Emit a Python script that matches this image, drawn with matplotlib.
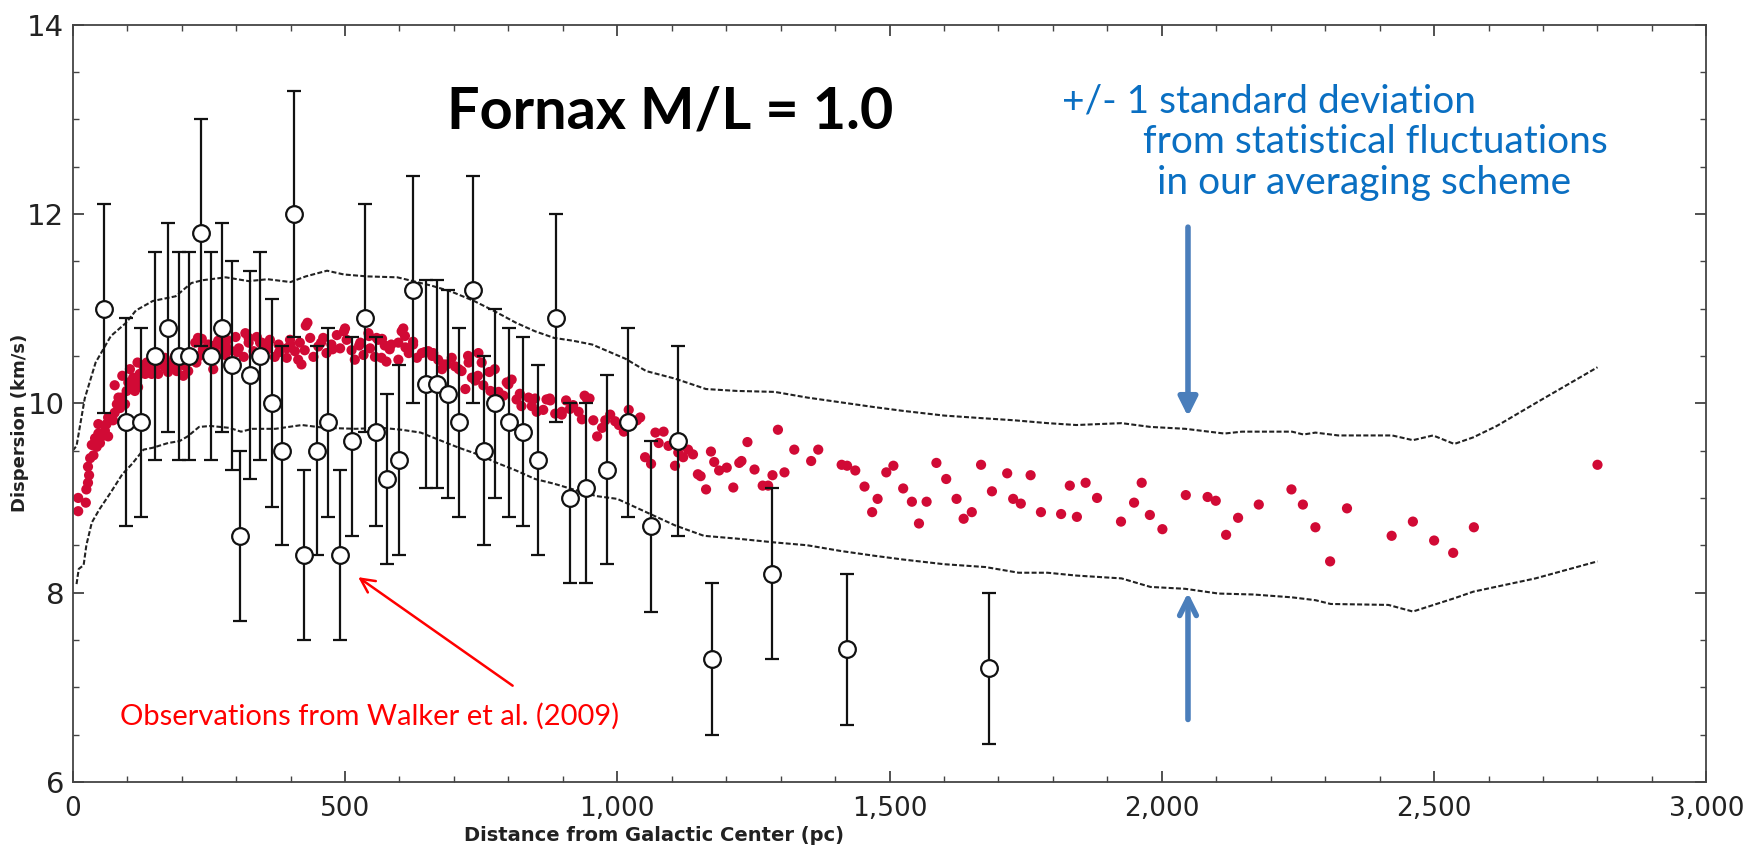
import numpy as np
import matplotlib.pyplot as plt
from matplotlib.ticker import MultipleLocator, FuncFormatter

# Walker et al. (2009) observations: radius (pc), dispersion, bar top, bar bottom
obs_r = [57, 98, 126, 151, 175, 195, 213, 235, 254, 274, 292, 307, 326, 344, 365,
         384, 407, 425, 448, 469, 490, 512, 537, 556, 578, 600, 625, 649, 668, 689,
         709, 735, 756, 775, 802, 827, 855, 888, 914, 942, 981, 1019, 1062, 1112,
         1173, 1285, 1421, 1682]
obs_v = [11.0, 9.8, 9.8, 10.5, 10.8, 10.5, 10.5, 11.8, 10.5, 10.8, 10.4, 8.6, 10.3, 10.5, 10.0,
         9.5, 12.0, 8.4, 9.5, 9.8, 8.4, 9.6, 10.9, 9.7, 9.2, 9.4, 11.2, 10.2, 10.2, 10.1,
         9.8, 11.2, 9.5, 10.0, 9.8, 9.7, 9.4, 10.9, 9.0, 9.1, 9.3, 9.8, 8.7, 9.6,
         7.3, 8.2, 7.4, 7.2]
obs_hi = [12.1, 10.9, 10.8, 11.6, 11.9, 11.6, 11.6, 13.0, 11.6, 11.9, 11.5, 9.5, 11.4, 11.6, 11.1,
          10.6, 13.3, 9.3, 10.6, 10.8, 9.3, 10.7, 12.1, 10.7, 10.1, 10.4, 12.4, 11.3, 11.3, 11.2,
          10.8, 12.4, 10.5, 11.0, 10.8, 10.7, 10.4, 12.0, 10.0, 10.0, 10.3, 10.8, 9.6, 10.6,
          8.1, 9.1, 8.2, 8.0]
obs_lo = [9.9, 8.7, 8.8, 9.4, 9.7, 9.4, 9.4, 10.6, 9.4, 9.7, 9.3, 7.7, 9.2, 9.4, 8.9,
          8.5, 10.7, 7.5, 8.4, 8.8, 7.5, 8.6, 9.7, 8.7, 8.3, 8.4, 10.0, 9.1, 9.1, 9.0,
          8.8, 10.0, 8.5, 9.0, 8.8, 8.7, 8.4, 9.8, 8.1, 8.1, 8.3, 8.8, 7.8, 8.6,
          6.5, 7.3, 6.6, 6.4]

# model dispersions (red points)
mod_r = [10, 10, 24, 25, 28, 30, 28, 32, 38, 35, 44, 41, 50, 47, 53, 47, 59, 65, 62, 65,
         74, 77, 81, 87, 90, 84, 99, 96, 102, 108, 111, 117, 114, 120, 123, 133, 129, 136,
         142, 145, 154, 157, 163, 169, 169, 175, 181, 188, 191, 194, 203, 203, 209, 212,
         218, 227, 233, 230, 237, 240, 249, 255, 258, 261, 267, 273, 276,
         77, 91, 105, 119, 133, 161, 182, 204, 225, 239, 260, 281, 302, 323, 344, 358,
         379, 400, 428, 456, 477, 498, 526, 544, 568, 582, 604, 611, 625, 646, 660, 681,
         709, 726, 744, 765, 800, 821, 849, 877, 898, 919, 940,
         283, 299, 305, 280, 317, 323, 332, 314, 338, 347, 356, 362, 371, 378, 393, 399,
         408, 414, 420, 417, 426, 431, 436, 442, 451, 460, 466, 475, 485, 491, 500, 503,
         512, 518, 528, 534, 543, 546, 555, 558, 273, 289, 393, 350,
         561, 573, 567, 576, 585, 598, 607, 610, 598, 617, 625, 632, 641, 653, 662, 671,
         678, 687, 696, 702, 714, 721, 727, 733, 739, 745, 751, 754, 767, 775, 782, 791,
         797, 806, 815, 824, 837, 843,
         852, 864, 870, 876, 886, 898, 906, 913, 929, 935, 944, 949, 956, 963, 972, 978,
         987, 996, 1003, 1012, 1021, 1036, 1042, 1051, 1062, 1070, 1076, 1085, 1094, 1106,
         1112, 1121, 1130, 1139, 1148,
         1153, 1163, 1172, 1178, 1187, 1201, 1213, 1224, 1228, 1239, 1252, 1267, 1277, 1285,
         1295, 1307, 1325, 1356, 1369, 1412, 1422, 1437, 1454, 1468, 1478, 1494, 1507, 1525,
         1541, 1554, 1568, 1586, 1604, 1623, 1636, 1651, 1668, 1688, 1716, 1727, 1741, 1759,
         1778, 1815, 1831, 1844, 1860, 1881, 1925, 1949, 1963, 1978, 2001, 2044, 2084, 2099,
         2118, 2140, 2178, 2238, 2259, 2282, 2309, 2340, 2422, 2461, 2500, 2535, 2573, 2800]
mod_v = [8.86, 9.00, 8.95, 9.09, 9.16, 9.24, 9.33, 9.42, 9.45, 9.56, 9.54, 9.63, 9.58, 9.68,
         9.65, 9.78, 9.71, 9.65, 9.78, 9.85, 9.82, 9.90, 9.99, 9.95, 10.06, 10.06, 10.13, 9.99,
         10.22, 10.17, 10.27, 10.24, 10.13, 10.17, 10.31, 10.31, 10.40, 10.43, 10.38, 10.31,
         10.40, 10.31, 10.43, 10.38, 10.48, 10.33, 10.43, 10.50, 10.34, 10.41, 10.29, 10.47,
         10.43, 10.34, 10.48, 10.43, 10.50, 10.69, 10.68, 10.53, 10.62, 10.48, 10.36, 10.59,
         10.66, 10.52, 10.61,
         10.19, 10.29, 10.36, 10.43, 10.36, 10.43, 10.38, 10.40, 10.64, 10.57, 10.61, 10.62,
         10.54, 10.69, 10.64, 10.59, 10.54, 10.62, 10.82, 10.64, 10.57, 10.76, 10.61, 10.71,
         10.68, 10.57, 10.76, 10.59, 10.62, 10.54, 10.50, 10.41, 10.36, 10.50, 10.29, 10.33,
         10.20, 10.10, 10.05, 10.03, 9.91, 9.98, 10.08,
         10.67, 10.70, 10.58, 10.51, 10.74, 10.64, 10.55, 10.49, 10.70, 10.64, 10.56, 10.67,
         10.49, 10.62, 10.58, 10.67, 10.55, 10.46, 10.41, 10.64, 10.56, 10.85, 10.69, 10.49,
         10.60, 10.69, 10.53, 10.62, 10.72, 10.58, 10.79, 10.67, 10.56, 10.46, 10.64, 10.51,
         10.74, 10.58, 10.49, 10.69, 10.64, 10.56, 10.48, 10.49,
         10.67, 10.61, 10.48, 10.44, 10.62, 10.64, 10.79, 10.71, 10.46, 10.53, 10.65, 10.48,
         10.53, 10.55, 10.53, 10.46, 10.36, 10.41, 10.48, 10.39, 10.34, 10.15, 10.43, 10.27,
         10.24, 10.53, 10.43, 10.19, 10.13, 10.36, 10.12, 10.08, 10.22, 10.25, 10.04, 9.97,
         10.06, 9.97,
         9.91, 9.93, 10.04, 10.05, 9.89, 9.88, 10.03, 9.94, 9.91, 9.83, 10.05, 10.05, 9.82,
         9.65, 9.74, 9.82, 9.88, 9.81, 9.77, 9.70, 9.93, 9.82, 9.85, 9.43, 9.36, 9.69, 9.58,
         9.70, 9.55, 9.34, 9.48, 9.43, 9.51, 9.46, 9.25,
         9.23, 9.09, 9.49, 9.38, 9.29, 9.32, 9.11, 9.37, 9.39, 9.59, 9.30, 9.13, 9.13, 9.24,
         9.72, 9.27, 9.51, 9.39, 9.51, 9.35, 9.34, 9.29, 9.12, 8.85, 8.99, 9.27, 9.34, 9.10,
         8.96, 8.73, 8.96, 9.37, 9.20, 8.99, 8.78, 8.85, 9.35, 9.07, 9.26, 8.99, 8.94, 9.24,
         8.85, 8.83, 9.13, 8.80, 9.16, 9.00, 8.75, 8.95, 9.16, 8.82, 8.67, 9.03, 9.01, 8.97,
         8.61, 8.79, 8.93, 9.09, 8.93, 8.69, 8.33, 8.89, 8.60, 8.75, 8.55, 8.42, 8.69, 9.35]

# +/- 1 sigma envelopes (dashed)
up_r = [0, 7, 22, 42, 70, 98, 116, 147, 189, 218, 239, 281, 323, 358, 400, 428, 467, 498,
        540, 596, 625, 660, 695, 737, 772, 814, 849, 884, 919, 954, 1015, 1053, 1106,
        1163, 1220, 1289, 1349, 1410, 1471, 1524, 1600, 1676, 1729, 1790, 1843, 1926,
        1979, 2043, 2115, 2147, 2239, 2260, 2282, 2324, 2423, 2461, 2498, 2537, 2572,
        2615, 2686, 2800]
up_v = [9.50, 9.55, 10.05, 10.43, 10.71, 10.85, 10.98, 11.08, 11.13, 11.27, 11.30, 11.33,
        11.29, 11.31, 11.28, 11.34, 11.40, 11.36, 11.34, 11.33, 11.29, 11.24, 11.18, 11.08,
        10.98, 10.85, 10.76, 10.69, 10.66, 10.62, 10.47, 10.34, 10.26, 10.15, 10.13, 10.12,
        10.06, 10.01, 9.96, 9.92, 9.87, 9.84, 9.82, 9.79, 9.77, 9.79, 9.75, 9.73, 9.68,
        9.70, 9.70, 9.67, 9.69, 9.66, 9.66, 9.61, 9.66, 9.57, 9.64, 9.76, 10.00, 10.38]
lo_r = [7, 11, 20, 25, 35, 49, 70, 91, 109, 130, 147, 175, 196, 211, 232, 253, 288, 309,
        330, 372, 421, 463, 519, 568, 604, 639, 674, 709, 744, 779, 814, 849, 884, 919,
        961, 1000, 1053, 1106, 1159, 1220, 1289, 1349, 1410, 1471, 1524, 1600, 1676,
        1737, 1790, 1843, 1926, 1979, 2043, 2104, 2168, 2239, 2282, 2310, 2416, 2461,
        2537, 2572, 2686, 2800]
lo_v = [8.09, 8.25, 8.29, 8.50, 8.74, 8.88, 9.06, 9.25, 9.36, 9.51, 9.53, 9.58, 9.60,
        9.65, 9.75, 9.76, 9.74, 9.70, 9.73, 9.73, 9.77, 9.74, 9.73, 9.74, 9.72, 9.69, 9.61,
        9.53, 9.46, 9.37, 9.29, 9.20, 9.15, 9.09, 9.02, 8.99, 8.85, 8.71, 8.60, 8.57, 8.53,
        8.50, 8.44, 8.39, 8.35, 8.30, 8.27, 8.21, 8.21, 8.18, 8.15, 8.06, 8.04, 7.99, 7.98,
        7.95, 7.92, 7.88, 7.87, 7.80, 7.94, 8.01, 8.15, 8.33]

fig = plt.figure(figsize=(17.57, 8.52), dpi=100)
ax = fig.add_axes([0.0414, 0.0822, 0.9298, 0.889])

dash = (0, (2.4, 1.1))
ax.plot(up_r, up_v, color='#222222', lw=1.5, linestyle=dash, zorder=1)
ax.plot(lo_r, lo_v, color='#222222', lw=1.5, linestyle=dash, zorder=1)

ax.scatter(mod_r, mod_v, s=54, color='#d10a35', edgecolors='none', zorder=2)

obs_v_arr = np.array(obs_v)
yerr = [obs_v_arr - np.array(obs_lo), np.array(obs_hi) - obs_v_arr]
ax.errorbar(obs_r, obs_v, yerr=yerr, fmt='o', color='#111111', ecolor='#111111',
            elinewidth=1.6, capsize=5, capthick=1.6, markersize=12,
            markerfacecolor='white', markeredgecolor='#111111', markeredgewidth=1.6,
            zorder=3)

ax.set_xlim(0, 3000)
ax.set_ylim(6, 14)
ax.xaxis.set_major_locator(MultipleLocator(500))
ax.xaxis.set_minor_locator(MultipleLocator(100))
ax.yaxis.set_major_locator(MultipleLocator(2))
ax.yaxis.set_minor_locator(MultipleLocator(0.5))
ax.xaxis.set_major_formatter(FuncFormatter(lambda v, p: f'{int(v):,}'))
ax.tick_params(which='both', direction='in', top=True, right=True, color='#444444')
ax.tick_params(which='major', length=8, width=1.1, colors='#222222')
ax.tick_params(which='minor', length=4.5, width=1.0)
ax.tick_params(axis='x', labelsize=19, pad=10)
ax.tick_params(axis='y', labelsize=21, pad=6)
for sp in ax.spines.values():
    sp.set_color('#444444')
    sp.set_linewidth(1.3)

ax.set_xlabel('Distance from Galactic Center (pc)', fontsize=14, fontweight='bold',
              color='#222222', labelpad=2)
ax.xaxis.set_label_coords(0.356, -0.058)
ax.set_ylabel('Dispersion (km/s)', fontsize=13, fontweight='bold', color='#222222')
ax.yaxis.set_label_coords(-0.027, 0.474)

ax.text(1097, 13.08, 'Fornax M/L = 1.0', fontsize=41.5, fontweight='bold', family='Lato',
        ha='center', va='center', color='black')

blue = '#0a6fc2'
ax.text(1817, 13.19, '+/- 1 standard deviation', fontsize=28, family='Lato',
        color=blue, ha='left', va='center')
ax.text(1965, 12.76, 'from statistical fluctuations', fontsize=28, family='Lato',
        color=blue, ha='left', va='center')
ax.text(1991, 12.33, 'in our averaging scheme', fontsize=28, family='Lato',
        color=blue, ha='left', va='center')

ax.text(87, 6.69, 'Observations from Walker et al. (2009)', fontsize=21, family='Lato',
        color='#ff0000', ha='left', va='center')
ax.annotate('', xy=(520, 8.18), xytext=(812, 7.0),
            arrowprops=dict(arrowstyle='->', color='#ff0000', lw=1.8, mutation_scale=25))

arrow_blue = '#4a7ebb'
ax.annotate('', xy=(2048, 9.86), xytext=(2048, 11.86),
            arrowprops=dict(arrowstyle='-|>', color=arrow_blue, lw=4,
                            mutation_scale=28, shrinkA=0, shrinkB=0))
ax.annotate('', xy=(2048, 8.0), xytext=(2048, 6.66),
            arrowprops=dict(arrowstyle='->', color=arrow_blue, lw=4,
                            mutation_scale=30, shrinkA=0, shrinkB=0))

fig.savefig('out.png', dpi=100)
